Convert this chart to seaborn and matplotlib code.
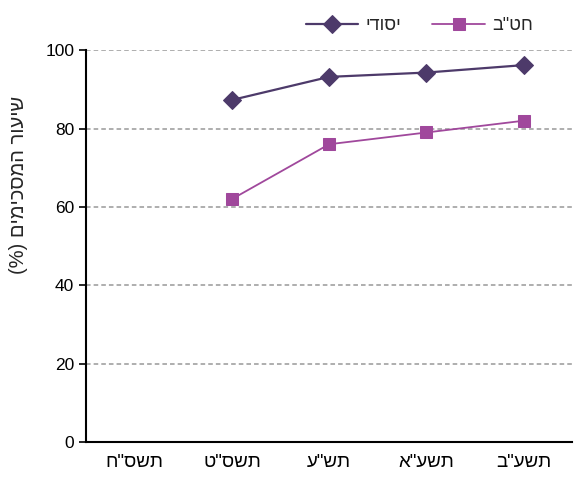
import numpy as np
import pandas as pd
import matplotlib
matplotlib.use("Agg")
import matplotlib.pyplot as plt
import seaborn as sns

# Hebrew strings are stored in visual (left-to-right) order, since matplotlib has no bidi support
years = ['ח"סשת', 'ט"סשת', 'ע"שת', 'א"עשת', 'ב"עשת']
elementary = [np.nan, 87.3, 93.2, 94.3, 96.2]
middle = [np.nan, 62.0, 76.0, 79.0, 82.0]
label_elementary = 'ידוסי'
label_middle = 'ב"טח'
y_label = '(%) םימיכסמה רועיש'

sns.set_theme(style="white")
plt.rcParams['font.family'] = ['Liberation Sans', 'DejaVu Sans']

df = pd.DataFrame({
    'pos': np.arange(len(years)),
    'elementary': elementary,
    'middle': middle,
})

fig = plt.figure(figsize=(5.78, 4.83), dpi=100)
ax = fig.add_axes([0.149, 0.085, 0.841, 0.811])

sns.lineplot(data=df, x='pos', y='elementary', ax=ax, color='#4D3A6A',
             marker='D', markersize=9, linewidth=1.6, markeredgecolor='#4D3A6A',
             label=label_elementary)
sns.lineplot(data=df, x='pos', y='middle', ax=ax, color='#A0489C',
             marker='s', markersize=8.5, linewidth=1.3, markeredgecolor='#A0489C',
             label=label_middle)

ax.set_xlim(-0.5, len(years) - 0.5)
ax.set_ylim(0, 100)
ax.set_yticks([0, 20, 40, 60, 80, 100])
ax.set_xticks(np.arange(len(years)))
ax.set_xticklabels(years)
ax.set_xticks(np.arange(len(years) + 1) - 0.5, minor=True)
ax.tick_params(axis='x', which='major', length=0, labelsize=13.5, pad=9, colors='black')
ax.tick_params(axis='x', which='minor', length=5, width=1.2, direction='out', color='black')
ax.tick_params(axis='y', length=5, width=1.2, direction='out', labelsize=12.5, colors='black', left=True)

for v in [20, 40, 60, 80, 100]:
    ax.axhline(v, color='#999999', linestyle=(0, (3, 2)), linewidth=1.1, zorder=0)

for s in ['top', 'right']:
    ax.spines[s].set_visible(False)
for s in ['left', 'bottom']:
    ax.spines[s].set_color('black')
    ax.spines[s].set_linewidth(1.5)

ax.set_xlabel('')
ax.set_ylabel(y_label, fontsize=14.5)
ax.yaxis.set_label_coords(-0.12, 0.655)

ax.legend(loc='lower left', bbox_to_anchor=(0.418, 1.0), ncol=2, frameon=False,
          fontsize=13, handlelength=2.9, columnspacing=1.75, handletextpad=0.4)

fig.savefig('out.png', dpi=100)
